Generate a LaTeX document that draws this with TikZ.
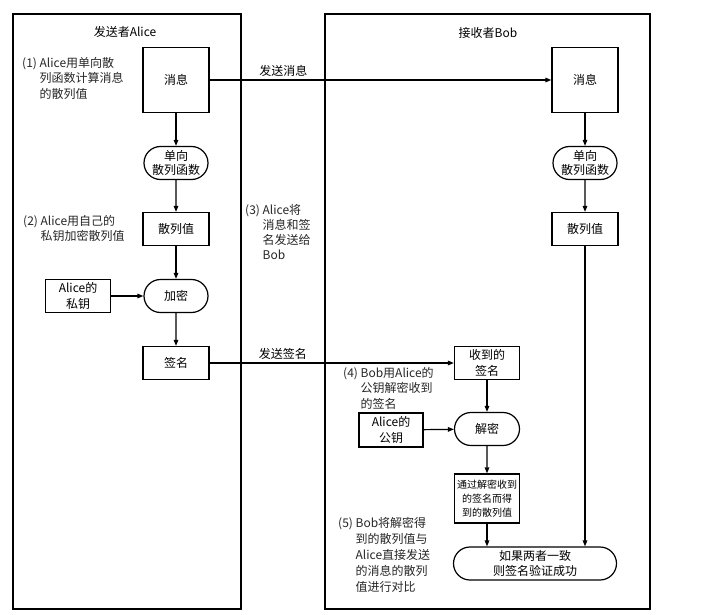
\documentclass[tikz,border=0pt]{standalone}
\usepackage{fontspec}
\setmainfont{Noto Sans CJK SC}
\usetikzlibrary{arrows.meta,positioning,shapes.misc}

\begin{document}
\begin{tikzpicture}[x=1pt,y=-1pt,
  font=\fontsize{12}{15.5}\selectfont,
  box/.style={draw,line width=1.2pt,minimum width=66pt,minimum height=33pt,inner sep=1pt,align=center},
  pill/.style={draw,rounded rectangle,line width=1.2pt,minimum width=64pt,minimum height=33pt,inner sep=0pt,align=center,font=\fontsize{12}{14}\selectfont},
  note/.style={align=left,anchor=north west,inner sep=0pt,text=black!85},
  arr/.style={-{Triangle[length=6pt,width=4.5pt]},line width=1.2pt}]
\useasboundingbox (0,0) rectangle (725,615);
\draw[line width=1.2pt] (13,14) rectangle (241,609);
\draw[line width=1.2pt] (325,14) rectangle (650,609);
\node (alice) at (125,32) {发送者Alice};
\node (bob) at (488,33) {接收者Bob};

\node[box,minimum height=65pt] (msgA) at (176,80) {消息};
\node[pill] (hfA) at (176,163) {单向\\散列函数};
\node[box] (hashA) at (176,229) {散列值};
\node[pill] (enc) at (176,296) {加密};
\node[box,minimum width=65pt] (keyA) at (78,296) {Alice的\\私钥};
\node[box] (sigA) at (176,363) {签名};

\node[box,minimum height=65pt] (msgB) at (585,80) {消息};
\node[pill] (hfB) at (585,163) {单向\\散列函数};
\node[box] (hashB) at (585,229) {散列值};
\node[box,minimum width=65pt] (recv) at (487,363) {收到的\\签名};
\node[pill,minimum width=65pt] (dec) at (487,429) {解密};
\node[box,minimum width=64pt,minimum height=34pt] (keyB) at (391,430) {Alice的\\公钥};
\node[box,minimum width=65pt,minimum height=49pt,font=\fontsize{10}{14}\selectfont] (dhash) at (487,498.5) {通过解密收到\\的签名而得\\到的散列值};
\node[pill,minimum width=163pt,font=\fontsize{12}{14.5}\selectfont] (res) at (535,563.5) {如果两者一致\\则签名验证成功};

\node[note] (n1) at (22,57) {(1)~Alice用单向散\\\hphantom{(1)~}列函数计算消息\\\hphantom{(1)~}的散列值};
\node[note] (n2) at (23,215) {(2)~Alice用自己的\\\hphantom{(2)~}私钥加密散列值};
\node[note,font=\fontsize{12}{15}\selectfont] (n3) at (245,204) {(3)~Alice将\\\hphantom{(3)~}消息和签\\\hphantom{(3)~}名发送给\\\hphantom{(3)~}Bob};
\node[note] (n4) at (343,367) {(4)~Bob用Alice的\\\hphantom{(4)~}公钥解密收到\\\hphantom{(4)~}的签名};
\node[note,font=\fontsize{12}{16}\selectfont] (n5) at (338,517) {(5)~Bob将解密得\\\hphantom{(5)~}到的散列值与\\\hphantom{(5)~}Alice直接发送\\\hphantom{(5)~}的消息的散列\\\hphantom{(5)~}值进行对比};

\draw[arr] (msgA) -- node[pos=.216,above] {发送消息} (msgB);
\draw[arr] (sigA) -- node[pos=.30,above] {发送签名} (recv);
\draw[arr] (msgA) -- (hfA);
\draw[arr] (hfA) -- (hashA);
\draw[arr] (hashA) -- (enc);
\draw[arr] (enc) -- (sigA);
\draw[arr] (keyA) -- (enc);
\draw[arr] (msgB) -- (hfB);
\draw[arr] (hfB) -- (hashB);
\draw[arr] (hashB) -- (hashB |- res.north);
\draw[arr] (recv) -- (dec);
\draw[arr] (keyB) -- (dec);
\draw[arr] (dec) -- (dhash);
\draw[arr] (dhash) -- (dhash |- res.north);
\end{tikzpicture}
\end{document}
